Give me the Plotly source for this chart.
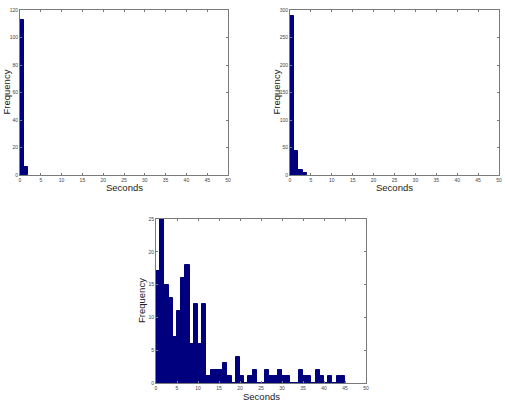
import plotly.graph_objects as go

# Bin lower edges (seconds) and counts for each histogram
tl_bins = [0, 1]
tl_counts = [113, 6]

tr_bins = [0, 1, 2, 3]
tr_counts = [290, 43, 10, 4]

bot_bins = list(range(45))
bot_counts = [17, 25, 15, 13, 7, 11, 16, 18, 6, 12, 6, 12, 1, 2, 2, 2, 3, 1, 0, 4,
              1, 0, 1, 2, 0, 0, 2, 1, 1, 2, 1, 1, 0, 0, 2, 1, 1, 0, 2, 1,
              0, 1, 0, 1, 1]

x_ticks = [0, 5, 10, 15, 20, 25, 30, 35, 40, 45, 50]
tl_yticks = [0, 20, 40, 60, 80, 100, 120]
tr_yticks = [0, 50, 100, 150, 200, 250, 300]
bot_yticks = [0, 5, 10, 15, 20, 25]

BAR = "#00007F"
AX = "#7a7a7a"
FONT = "Liberation Sans, Arial, sans-serif"

fig = go.Figure()

def add_hist(bins, counts, xa, ya):
    fig.add_trace(go.Bar(
        x=[b + 0.5 for b in bins], y=counts, width=1.0,
        marker=dict(color=BAR, line=dict(color=BAR, width=1)),
        xaxis=xa, yaxis=ya, showlegend=False,
    ))

add_hist(tl_bins, tl_counts, "x", "y")
add_hist(tr_bins, tr_counts, "x2", "y2")
add_hist(bot_bins, bot_counts, "x3", "y3")

def xaxis(dom, anchor):
    return dict(domain=dom, anchor=anchor, range=[0, 50], tickvals=x_ticks,
                ticks="inside", ticklen=2, tickcolor=AX, mirror="ticks",
                showline=True, linecolor=AX, linewidth=1, showgrid=False,
                zeroline=False, tickfont=dict(size=5, family=FONT, color="#444"),
                automargin=False)

def yaxis(dom, anchor, rng, tv):
    return dict(domain=dom, anchor=anchor, range=rng, tickvals=tv,
                ticks="inside", ticklen=2, tickcolor=AX, mirror="ticks",
                showline=True, linecolor=AX, linewidth=1, showgrid=False,
                zeroline=False, tickfont=dict(size=5, family=FONT, color="#444"),
                automargin=False)

W, H = 505, 412
def px(x): return x / W
def py(y): return 1 - y / H

tl_x = [px(20), px(228)]
tr_x = [px(290), px(499)]
bt_x = [px(156), px(366)]
top_y = [py(175), py(10)]
bot_y = [py(383), py(219)]

fig.update_layout(
    width=W, height=H,
    margin=dict(l=0, r=0, t=0, b=0),
    paper_bgcolor="white", plot_bgcolor="white",
    bargap=0,
    xaxis=xaxis(tl_x, "y"),
    yaxis=yaxis(top_y, "x", [0, 120], tl_yticks),
    xaxis2=xaxis(tr_x, "y2"),
    yaxis2=yaxis(top_y, "x2", [0, 300], tr_yticks),
    xaxis3=xaxis(bt_x, "y3"),
    yaxis3=yaxis(bot_y, "x3", [0, 25], bot_yticks),
    font=dict(family=FONT),
)

def label(text, x, y, angle=0):
    fig.add_annotation(text=text, x=x, y=y, xref="paper", yref="paper",
                       showarrow=False, textangle=angle,
                       font=dict(size=9.5, family=FONT, color="#222"),
                       xanchor="center", yanchor="middle")

label("Seconds", (tl_x[0] + tl_x[1]) / 2, py(187))
label("Seconds", (tr_x[0] + tr_x[1]) / 2, py(187))
label("Seconds", (bt_x[0] + bt_x[1]) / 2, py(396))
label("Frequency", px(6), (top_y[0] + top_y[1]) / 2, -90)
label("Frequency", px(276), (top_y[0] + top_y[1]) / 2, -90)
label("Frequency", px(141), (bot_y[0] + bot_y[1]) / 2, -90)

fig.write_html("out.html")
